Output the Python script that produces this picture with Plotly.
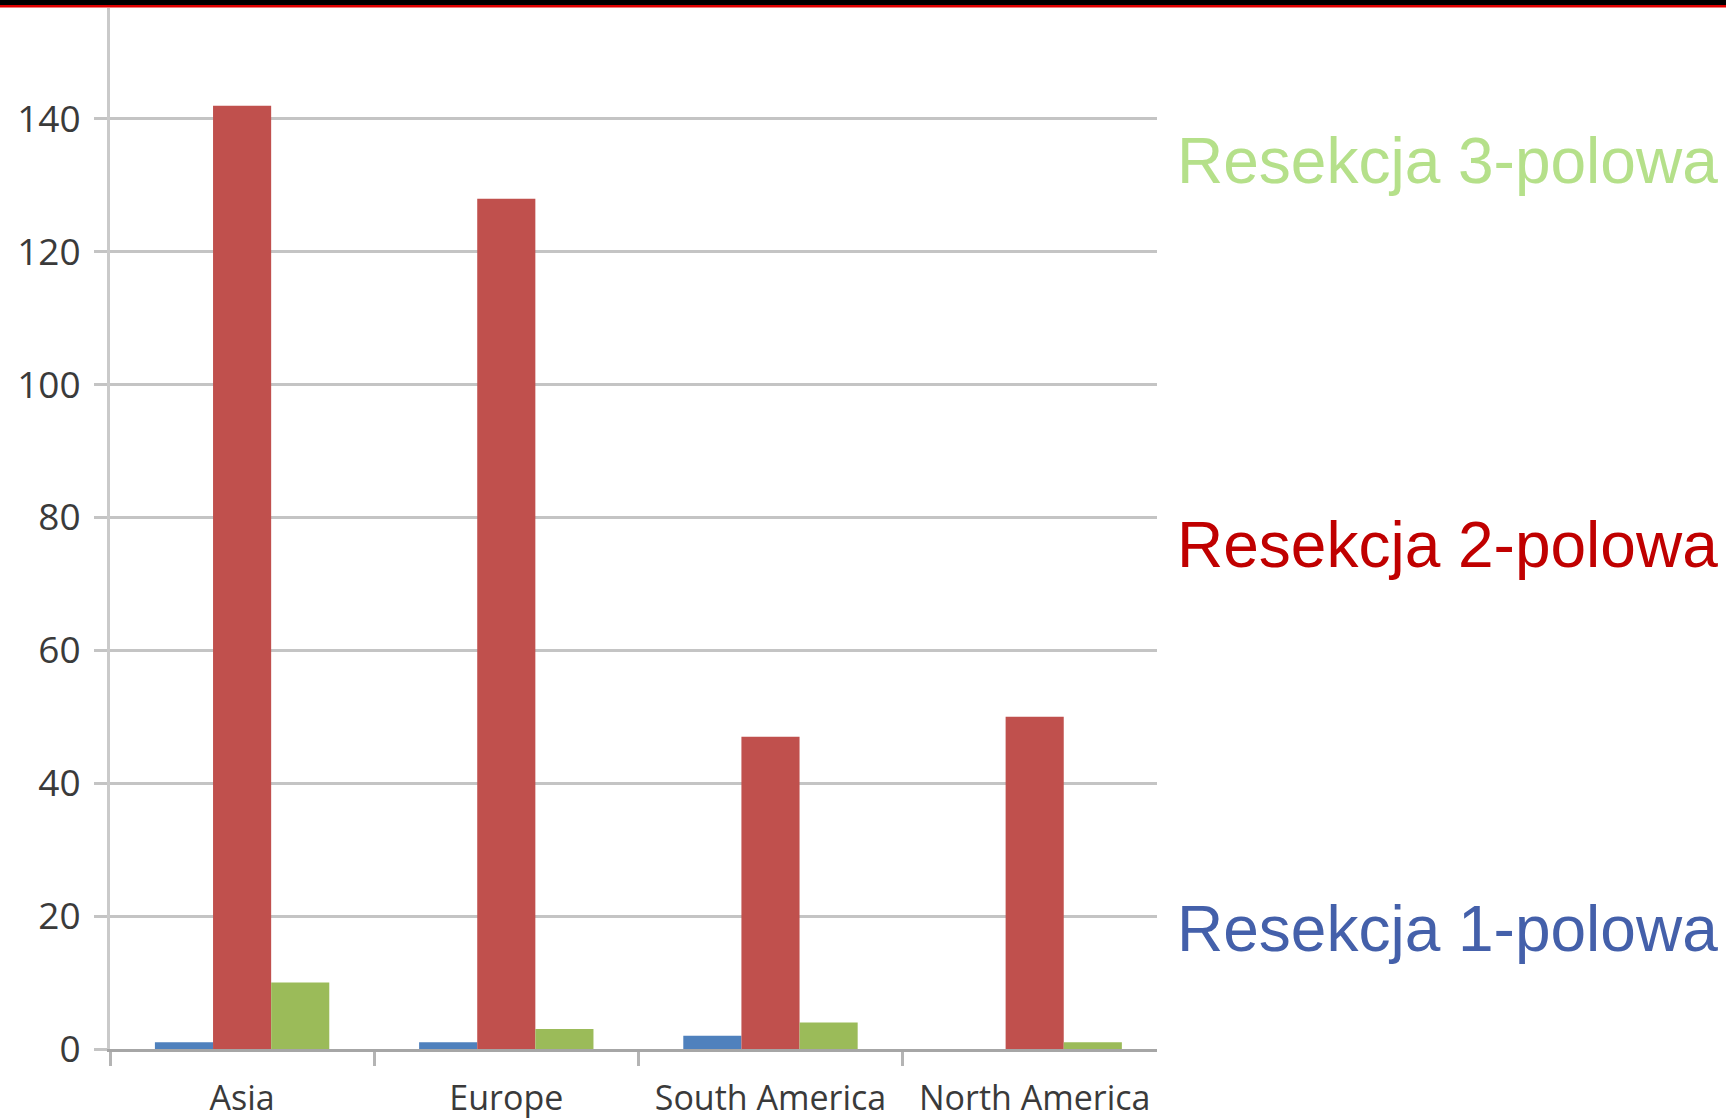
import plotly.graph_objects as go

# Regions and number of resections of each type
regions = ["Asia", "Europe", "South America", "North America"]
one_field = [1, 1, 2, 0]
two_field = [142, 128, 47, 50]
three_field = [10, 3, 4, 1]

series_names = ["Resekcja 1-polowa", "Resekcja 2-polowa", "Resekcja 3-polowa"]
bar_colors = ["#4F81BD", "#C0504D", "#9BBB59"]
label_colors = ["#4460AA", "#C00000", "#B5E08A"]
label_y = [0.115, 0.484, 0.853]

y_ticks = [0, 20, 40, 60, 80, 100, 120, 140]

W, H = 1726, 1120
M_L, M_R, M_T, M_B = 110, 569, 8, 71
plot_h = H - M_T - M_B
plot_w = W - M_L - M_R

fig = go.Figure()
for name, vals, col in zip(series_names, [one_field, two_field, three_field], bar_colors):
    fig.add_trace(go.Bar(x=regions, y=vals, name=name, marker=dict(color=col, line=dict(width=0))))

# Series labels placed to the right of the plot area
for name, col, yy in zip(series_names, label_colors, label_y):
    fig.add_annotation(
        text=name, xref="paper", yref="paper", x=(1175 - M_L) / plot_w, y=yy,
        xanchor="left", yanchor="middle", showarrow=False,
        font=dict(family="Liberation Sans, Arial", size=64, color=col),
    )

# Black band with a red rule along the top edge
def py(p):
    return (H - M_B - p) / plot_h

x0 = -M_L / plot_w
x1 = (W - M_L) / plot_w
fig.add_shape(type="rect", xref="paper", yref="paper", x0=x0, x1=x1, y0=py(5), y1=py(0) + 0.01,
              fillcolor="#000000", line=dict(width=0), layer="above")
fig.add_shape(type="rect", xref="paper", yref="paper", x0=x0, x1=x1, y0=py(7.5), y1=py(5),
              fillcolor="#E00000", line=dict(width=0), layer="above")

fig.update_layout(
    width=W, height=H,
    margin=dict(l=M_L, r=M_R, t=M_T, b=M_B, autoexpand=False),
    paper_bgcolor="white", plot_bgcolor="white",
    barmode="group", bargap=0.34, bargroupgap=0,
    showlegend=False,
    font=dict(family="Open Sans", size=34, color="#3A3A3A"),
)
fig.update_xaxes(
    range=[-0.5, 3.463], showgrid=False, zeroline=False, automargin=False,
    showline=True, linecolor="#A6A6A6", linewidth=3,
    ticks="outside", tickson="boundaries", ticklen=14, tickwidth=3, tickcolor="#B4B4B4",
    tickfont=dict(family="Open Sans", size=34, color="#3A3A3A"),
    ticklabelstandoff=17,
)
fig.update_yaxes(
    range=[0, 156.7], tickvals=y_ticks, showgrid=True, gridcolor="#C4C4C4", gridwidth=3,
    zeroline=False, showline=True, linecolor="#CACACA", linewidth=3, automargin=False,
    ticks="outside", ticklen=13, tickwidth=3, tickcolor="#C4C4C4",
    tickfont=dict(family="Open Sans", size=37, color="#3A3A3A"),
    ticklabelstandoff=6,
)

fig.write_html("out.html")
